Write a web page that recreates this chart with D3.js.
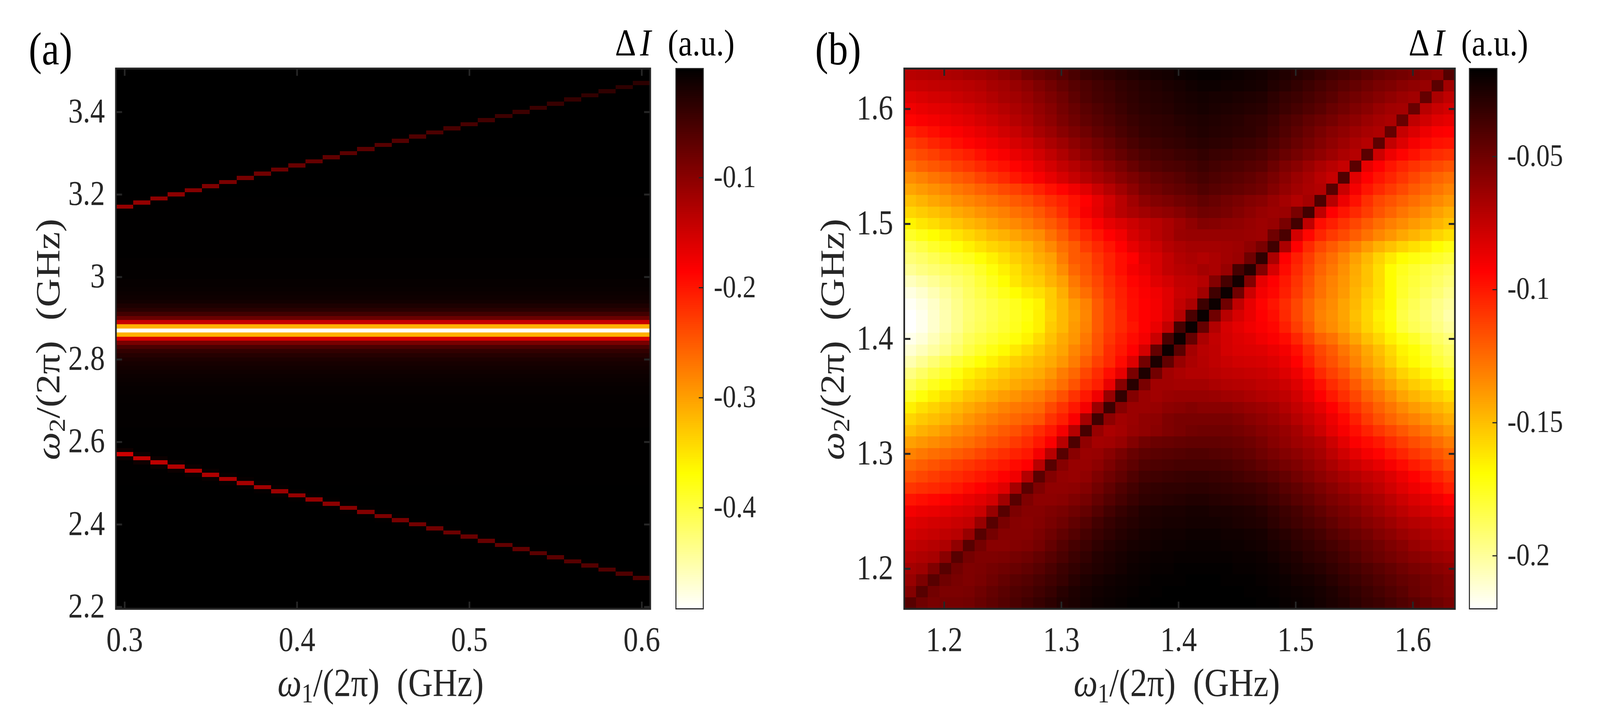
<!DOCTYPE html>
<html>
<head>
<meta charset="utf-8">
<script src="https://cdn.jsdelivr.net/npm/d3@7"></script>
<style>
	html, body { margin: 0; padding: 0; background: #fff; overflow: hidden; }
	svg { display: block; width: 100vw; height: 100vh; }
	text { font-family: "Liberation Serif", serif; }
	.tick text { fill: #262626; }
	.cell { shape-rendering: crispEdges; }
	.bar { shape-rendering: crispEdges; }
</style>
</head>
<body>
<svg class="figure" viewBox="0 0 4797 1820" preserveAspectRatio="none"></svg>
<script>
// Panel (a) grid and tick labels
var omega1A = [0.30,0.31,0.32,0.33,0.34,0.35,0.36,0.37,0.38,0.39,0.40,0.41,0.42,0.43,0.44,0.45,
	0.46,0.47,0.48,0.49,0.50,0.51,0.52,0.53,0.54,0.55,0.56,0.57,0.58,0.59,0.60];
var xTicksA = [0.3, 0.4, 0.5, 0.6];
var xTickLabelsA = ["0.3", "0.4", "0.5", "0.6"];
var yTicksA = [2.2, 2.4, 2.6, 2.8, 3.0, 3.2, 3.4];
var yTickLabelsA = ["2.2", "2.4", "2.6", "2.8", "3", "3.2", "3.4"];
var barTicksA = [-0.4, -0.3, -0.2, -0.1];
var barLabelsA = ["-0.4", "-0.3", "-0.2", "-0.1"];
var barRangeA = [-0.492, -0.001];

// Panel (a) horizontal band, -dI x 1000, one value per row from 2.20 to 3.50 GHz
var bandA = [
	1,1,1,1,1,1,1,1,1,1,
	1,1,1,1,1,1,1,1,1,1,
	1,1,1,1,1,1,1,1,1,1,
	2,2,2,2,2,2,2,2,2,2,
	2,2,2,2,3,3,3,3,3,3,
	4,4,5,5,7,8,10,12,14,17,
	21,28,37,55,88,156,312,492,312,145,
	77,48,30,21,14,11,9,7,5,5,
	3,3,3,3,3,2,2,2,2,2,
	2,2,2,2,2,2,2,2,2,2,
	1,1,1,1,1,1,1,1,1,1,
	1,1,1,1,1,1,1,1,1,1,
	1,1,1,1,1,1,1,1,1,1,1];

// Panel (a) upper and lower traces, per omega1 column
var upperRowA = [3.17,3.18,3.19,3.20,3.21,3.22,3.23,3.24,3.25,3.26,3.27,3.28,3.29,3.30,3.31,3.32,
	3.33,3.34,3.35,3.36,3.37,3.38,3.39,3.40,3.41,3.42,3.43,3.44,3.45,3.46,3.47];
var upperValueA = [109,107,104,102,96,93,89,86,82,79,76,73,70,67,66,63,
	61,59,56,53,52,49,46,44,43,41,39,37,36,34,33];
var lowerRowA = [2.57,2.56,2.55,2.54,2.53,2.52,2.51,2.50,2.49,2.48,2.47,2.46,2.45,2.44,2.43,2.42,
	2.41,2.40,2.39,2.38,2.37,2.36,2.35,2.34,2.33,2.32,2.31,2.30,2.29,2.28,2.27];
var lowerValueA = [149,142,138,131,130,127,124,120,117,113,109,108,102,98,95,91,
	88,84,82,79,77,75,72,70,67,66,64,62,60,59,57];
var lowerSideA = [12,12,10,10,8,8,7,6,5,5,4,4,3,3,3,3,
	3,2,2,2,2,2,2,2,2,2,2,2,2,2,2];

// Panel (b) grid and tick labels
var omega1B = [1.171,1.181,1.191,1.201,1.211,1.221,1.231,1.241,1.251,1.261,1.271,1.281,
	1.291,1.301,1.311,1.321,1.331,1.341,1.351,1.361,1.371,1.381,1.391,1.401,1.411,1.421,
	1.431,1.441,1.451,1.461,1.471,1.481,1.491,1.501,1.511,1.521,1.531,1.541,1.551,1.561,
	1.571,1.581,1.591,1.601,1.611,1.621,1.631];
var omega2B = [1.63,1.62,1.61,1.60,1.59,1.58,1.57,1.56,1.55,1.54,1.53,1.52,1.51,1.50,1.49,1.48,
	1.47,1.46,1.45,1.44,1.43,1.42,1.41,1.40,1.39,1.38,1.37,1.36,1.35,1.34,1.33,1.32,
	1.31,1.30,1.29,1.28,1.27,1.26,1.25,1.24,1.23,1.22,1.21,1.20,1.19,1.18,1.17];
var xTicksB = [1.2, 1.3, 1.4, 1.5, 1.6];
var yTicksB = [1.2, 1.3, 1.4, 1.5, 1.6];
var tickLabelsB = ["1.2", "1.3", "1.4", "1.5", "1.6"];
var barTicksB = [-0.2, -0.15, -0.1, -0.05];
var barLabelsB = ["-0.2", "-0.15", "-0.1", "-0.05"];
var barRangeB = [-0.220, -0.017];

// Panel (b) cells, -dI x 1000, one list per omega2 row (top row first)
var cellsB = [
	[72,71,70,69,68,66,65,63,60,57,52,49,46,43,39,35,33,31,29,27,25,24,23,21,20,19,19,20,21,22,23,25,27,29,31,34,37,39,42,45,48,50,52,54,57,59,42],
	[77,76,75,74,73,72,70,67,65,62,59,55,51,47,43,40,37,35,32,30,28,27,25,24,22,21,21,22,22,23,24,27,29,32,35,38,41,44,47,50,53,55,58,60,62,44,65],
	[84,82,80,79,77,75,73,70,67,65,62,58,54,50,45,41,38,36,33,31,29,28,27,25,24,23,24,24,25,26,27,30,33,35,38,41,44,48,51,54,57,60,63,65,47,68,74],
	[89,87,85,84,82,80,77,74,71,68,65,61,57,52,48,44,41,38,35,32,30,29,28,26,25,24,25,26,27,28,29,32,35,38,41,44,48,51,55,58,62,65,66,48,72,77,80],
	[94,92,90,88,86,84,81,78,75,71,68,63,59,54,50,46,43,40,37,34,32,31,30,28,27,26,27,28,29,31,32,35,39,42,46,49,52,56,59,63,66,68,48,74,79,84,86],
	[103,100,97,94,92,89,86,83,79,76,72,67,63,58,54,50,46,43,39,36,33,32,31,30,28,27,28,29,30,31,33,37,41,45,49,53,57,60,64,67,69,47,76,82,88,92,93],
	[111,108,104,101,97,94,91,88,85,81,78,73,68,64,59,55,51,47,43,39,36,35,33,32,30,29,30,31,33,34,36,40,44,48,52,56,60,64,68,71,45,75,83,90,95,98,99],
	[118,115,112,108,105,102,98,94,91,87,84,79,74,69,64,59,55,51,47,43,40,38,37,35,34,32,34,35,37,38,40,44,48,52,56,60,64,68,71,44,78,88,94,98,103,106,108],
	[126,122,119,116,112,109,105,101,98,94,90,85,80,75,71,66,62,57,53,48,44,42,40,39,37,35,37,39,40,42,44,49,54,58,63,68,72,76,44,86,93,99,104,108,112,115,118],
	[135,132,128,125,121,118,113,109,105,100,96,91,86,81,76,71,67,63,58,54,50,47,45,43,40,38,40,42,44,46,49,53,58,63,67,72,76,41,84,93,99,104,109,114,119,123,126],
	[142,139,136,133,129,126,122,119,115,112,108,103,98,94,89,84,77,71,65,59,53,51,48,46,44,41,43,45,47,49,51,56,61,65,68,70,43,77,90,99,105,110,115,120,124,128,132],
	[150,147,143,140,136,133,130,127,124,120,117,112,107,103,98,93,86,79,72,65,59,56,54,51,49,46,48,51,53,56,58,62,66,70,66,40,72,88,98,107,114,118,122,126,130,134,138],
	[157,154,151,148,144,141,137,134,131,127,124,119,113,107,99,91,85,78,72,68,65,62,60,57,53,50,51,53,56,59,62,64,63,53,37,74,93,99,105,111,118,123,128,132,136,141,145],
	[166,162,159,155,152,148,145,141,137,134,130,125,120,114,106,98,92,86,82,78,74,72,68,64,60,56,57,59,60,62,64,62,53,37,74,97,102,108,114,120,126,131,135,139,143,147,151],
	[177,173,169,165,161,157,153,149,146,142,138,135,127,120,112,105,99,93,89,81,77,72,68,63,62,62,62,62,62,63,64,50,39,80,95,104,110,115,121,127,133,138,143,147,151,156,160],
	[187,183,178,174,170,165,161,157,154,150,147,141,134,126,120,111,105,99,93,86,81,77,71,68,66,66,66,65,64,60,53,36,68,93,105,114,120,126,132,139,146,151,156,160,164,169,173],
	[193,190,186,182,178,175,170,165,160,155,151,145,141,130,120,117,109,103,97,93,84,81,75,70,68,70,68,65,63,50,31,68,93,102,111,120,126,133,141,148,156,163,169,172,175,178,181],
	[199,195,192,189,186,183,177,171,165,160,154,150,144,135,124,118,111,103,97,90,87,81,75,72,70,66,68,62,38,28,56,81,96,105,114,123,129,136,144,151,159,169,175,179,183,186,189],
	[207,203,199,195,191,187,181,175,169,162,157,154,147,141,129,121,114,106,100,94,90,84,80,75,74,71,56,38,23,56,86,93,100,108,117,126,132,138,145,151,159,169,177,181,185,189,193],
	[214,210,205,200,195,189,184,179,174,169,164,160,154,145,133,126,117,108,102,96,92,89,84,77,75,65,36,21,50,78,90,95,102,110,119,127,133,139,147,154,160,169,178,183,188,192,197],
	[218,214,209,203,197,191,187,183,179,175,170,166,154,148,139,132,120,111,103,97,93,90,84,75,68,35,21,50,74,86,94,99,106,114,123,130,135,142,148,156,162,169,181,186,191,196,200],
	[220,216,210,204,198,192,188,184,180,176,172,165,156,148,141,133,120,111,105,97,93,90,83,71,39,20,50,72,81,87,93,97,105,114,123,132,136,142,150,157,165,171,183,188,192,197,203],
	[220,216,210,204,198,191,187,183,179,175,170,165,154,148,139,132,120,111,105,99,93,87,75,38,20,47,70,81,85,89,92,95,102,111,120,130,135,141,148,156,163,170,181,186,190,195,200],
	[216,212,206,200,194,187,183,179,175,171,166,159,151,144,138,129,118,109,102,96,90,77,39,21,47,68,75,80,83,85,89,92,96,104,113,122,127,135,142,150,157,165,172,177,184,189,194],
	[211,206,201,196,190,183,178,173,168,163,158,153,147,142,133,126,117,106,100,93,80,47,21,44,66,72,74,80,82,83,84,87,90,97,106,114,120,128,135,143,150,158,166,170,177,184,189],
	[204,198,192,186,180,175,170,165,160,155,152,148,144,138,130,121,112,105,96,83,51,25,46,62,68,71,74,77,79,80,81,83,87,93,102,111,117,124,132,140,147,155,163,168,174,180,185],
	[195,189,183,178,172,165,161,157,153,149,147,144,138,130,124,114,106,97,86,53,26,51,65,68,70,70,72,74,75,76,77,79,83,88,96,105,112,118,126,134,141,148,156,161,166,172,177],
	[187,181,175,170,165,159,155,151,148,144,141,138,132,126,118,108,102,87,57,29,53,65,65,66,66,66,68,70,71,72,74,75,78,83,90,98,106,112,120,128,135,142,149,154,158,163,168],
	[177,171,165,160,156,151,148,144,140,137,133,130,124,117,108,100,89,62,32,56,63,65,63,62,62,62,63,65,66,68,70,72,74,79,86,93,100,107,114,122,128,135,142,147,151,155,159],
	[165,160,156,152,148,144,140,136,132,129,127,124,115,108,100,90,63,35,57,63,63,62,59,58,56,58,58,58,60,62,64,66,70,75,80,86,93,100,108,115,122,128,134,139,143,147,151],
	[157,153,150,147,143,138,134,130,127,124,121,118,108,102,92,66,36,59,65,63,60,59,55,53,53,53,53,53,55,58,60,63,66,71,76,81,88,95,102,110,117,123,128,132,136,141,145],
	[150,146,143,139,135,132,128,124,120,117,112,106,100,90,71,38,62,68,66,62,60,58,55,53,51,50,50,50,52,54,57,59,62,66,72,78,85,91,97,103,109,114,119,124,128,133,138],
	[141,138,135,132,129,126,122,118,115,110,106,100,92,72,40,60,66,65,62,56,51,49,48,47,46,46,46,47,48,50,53,57,60,64,67,70,78,85,92,96,100,106,111,116,120,125,130],
	[132,129,126,124,121,118,114,110,107,103,100,90,72,43,58,63,62,58,53,48,45,44,43,42,41,41,42,43,45,47,50,53,56,59,63,67,73,79,85,90,94,99,104,109,113,118,123],
	[124,121,118,115,112,109,106,103,100,96,93,72,43,57,62,62,59,54,49,45,41,40,39,38,38,38,38,39,41,43,46,49,52,55,59,63,68,73,78,82,86,91,96,101,105,111,117],
	[117,114,111,108,106,103,100,97,93,89,70,44,56,61,62,60,55,50,46,41,37,36,35,34,33,33,34,35,37,39,41,44,47,51,55,59,63,67,71,75,78,83,88,93,98,103,108],
	[109,107,105,103,100,96,93,89,84,66,44,55,60,60,59,56,51,46,41,37,33,32,31,31,30,30,31,32,33,34,36,39,43,46,50,54,58,62,66,70,74,79,84,88,92,97,102],
	[99,97,95,93,90,87,84,80,65,43,55,59,59,58,55,52,47,42,38,34,31,30,29,28,27,27,28,29,30,31,33,36,39,43,46,50,54,57,61,65,68,73,78,82,85,89,93],
	[90,88,87,85,83,81,77,62,43,54,57,57,55,53,50,47,42,37,33,30,27,26,25,25,24,24,25,25,26,27,29,32,35,38,42,46,50,53,57,61,65,69,73,77,80,83,86],
	[84,82,80,79,77,75,62,43,53,57,58,56,53,50,46,42,37,33,30,28,26,25,24,24,23,23,23,24,25,26,27,30,33,36,39,42,46,50,53,57,60,64,68,71,73,76,78],
	[80,78,76,74,72,62,43,52,57,57,57,54,50,46,42,38,34,31,28,26,24,23,22,22,21,21,21,22,22,23,24,27,29,32,35,38,42,45,49,52,56,59,63,66,69,72,74],
	[75,73,71,69,60,43,52,58,58,56,55,52,47,42,38,35,31,28,26,24,23,22,21,21,20,20,20,21,21,22,23,25,27,30,32,35,38,41,45,48,51,55,58,62,65,68,70],
	[71,69,67,58,43,52,55,55,54,52,50,47,43,39,35,32,28,26,24,22,21,20,20,19,19,19,19,19,20,20,21,23,25,27,30,32,35,38,42,46,49,52,55,58,60,63,65],
	[66,64,55,43,51,55,54,52,50,48,46,43,39,35,32,29,27,25,23,21,20,19,19,18,18,18,18,18,19,19,20,21,23,25,27,29,32,35,38,41,44,47,50,53,55,58,60],
	[62,54,43,50,53,55,53,50,47,44,42,39,36,33,29,26,24,22,21,20,19,18,18,18,17,17,17,18,18,18,19,20,21,23,24,26,29,32,35,38,41,44,47,49,52,54,57],
	[56,43,51,54,54,53,50,47,44,41,39,36,33,29,26,24,22,21,20,19,18,18,17,17,17,17,17,17,17,18,18,19,20,21,22,24,26,29,32,35,38,41,44,48,51,54,56],
	[43,50,53,52,52,51,48,45,42,39,36,33,30,27,25,23,21,20,19,18,18,17,17,17,17,17,17,17,17,17,18,18,19,20,21,23,25,27,30,33,35,38,41,44,47,50,53]
];

var inkColor = "#262626";
var svg = d3.select(".figure");

svg.append("rect").attr("width", 4797).attr("height", 1820).attr("fill", "#fff");

// MATLAB "hot" running from black at the top of the colorbar to white at the bottom
function hotScale(range) {
	var lo = range[0], hi = range[1], span = hi - lo;
	return d3.scaleLinear()
		.domain([lo, lo + span * 0.25, lo + span * 0.625, hi])
		.range(["#ffffff", "#ffff00", "#ff0000", "#000000"])
		.clamp(true);
}

// Build the cell list of panel (a) from the band and the two traces
function cellsForA() {
	var cells = [];
	omega1A.forEach(function(w1, col) {
		bandA.forEach(function(base, row) {
			var w2 = 2.2 + row * 0.01;
			var v = base;
			var lowerOff = Math.round((w2 - lowerRowA[col]) * 100);
			if (Math.abs(lowerOff) == 1) { v = Math.max(v, lowerSideA[col]); }
			if (lowerOff == 0) { v = Math.max(v, lowerValueA[col]); }
			if (Math.round((w2 - upperRowA[col]) * 100) == 0) { v = Math.max(v, upperValueA[col]); }
			cells.push({x: w1, y: w2, value: -v / 1000});
		});
	});
	return cells;
}

function cellsForB() {
	var cells = [];
	omega2B.forEach(function(w2, r) {
		omega1B.forEach(function(w1, c) {
			cells.push({x: w1, y: w2, value: -cellsB[r][c] / 1000});
		});
	});
	return cells;
}

// Draw one heatmap panel with its frame, axes and colorbar
function drawPanel(p) {
	var g = svg.append("g").attr("class", "panel");
	var color = hotScale(p.barRange);
	var x = d3.scaleLinear().domain(p.xDomain).range(p.xRange);
	var y = d3.scaleLinear().domain(p.yDomain).range([1558.5, 175.5]);
	var half = p.step / 2;

	g.selectAll(".cell")
		.data(p.cells)
	  .join("rect")
		.attr("class", "cell")
		.attr("x", function(d) { return x(d.x - half); })
		.attr("y", function(d) { return y(d.y + half); })
		.attr("width", function(d) { return x(d.x + half) - x(d.x - half); })
		.attr("height", function(d) { return y(d.y - half) - y(d.y + half); })
		.attr("fill", function(d) { return color(d.value); });

	// Ticks point inward on all four sides, labels only left and bottom
	var bottom = g.append("g")
		.attr("transform", "translate(0,1558.5)")
		.call(d3.axisBottom(x).tickValues(p.xTicks).tickSize(-18.5).tickPadding(0)
			.tickFormat(function(d, i) { return p.xLabels[i]; }));
	var left = g.append("g")
		.attr("transform", "translate(" + p.xRange[0] + ",0)")
		.call(d3.axisLeft(y).tickValues(p.yTicks).tickSize(-18.5).tickPadding(0)
			.tickFormat(function(d, i) { return p.yLabels[i]; }));
	var top = g.append("g")
		.attr("transform", "translate(0,175.5)")
		.call(d3.axisTop(x).tickValues(p.xTicks).tickSize(-18.5).tickFormat(""));
	var right = g.append("g")
		.attr("transform", "translate(" + p.xRange[1] + ",0)")
		.call(d3.axisRight(y).tickValues(p.yTicks).tickSize(-18.5).tickFormat(""));

	[bottom, left, top, right].forEach(function(axis) {
		axis.select(".domain").remove();
		axis.selectAll("line").attr("stroke", inkColor).attr("stroke-width", 5);
	});

	bottom.selectAll("text")
		.attr("font-size", 88)
		.attr("y", 108)
		.attr("dy", 0);
	left.selectAll("text")
		.attr("font-size", 88)
		.attr("x", -33)
		.attr("dy", 26);

	g.append("rect")
		.attr("x", p.xRange[0])
		.attr("y", 175.5)
		.attr("width", p.xRange[1] - p.xRange[0])
		.attr("height", 1383)
		.attr("fill", "none")
		.attr("stroke", inkColor)
		.attr("stroke-width", 5);

	// Colorbar
	var barY = d3.scaleLinear().domain(p.barRange).range([1558.5, 175.5]);
	var levels = d3.range(0, 256);
	var barStep = (p.barRange[1] - p.barRange[0]) / 256;
	g.selectAll(".bar")
		.data(levels)
	  .join("rect")
		.attr("class", "bar")
		.attr("x", p.barX[0])
		.attr("width", p.barX[1] - p.barX[0])
		.attr("y", function(d) { return barY(p.barRange[0] + (d + 1) * barStep); })
		.attr("height", function(d) { return barY(p.barRange[0] + d * barStep) - barY(p.barRange[0] + (d + 1) * barStep); })
		.attr("fill", function(d) { return color(p.barRange[0] + (d + 0.5) * barStep); });

	var barAxis = g.append("g")
		.attr("transform", "translate(" + p.barX[1] + ",0)")
		.call(d3.axisRight(barY).tickValues(p.barTicks).tickSize(-13.5).tickPadding(0)
			.tickFormat(function(d, i) { return p.barLabels[i]; }));
	barAxis.select(".domain").remove();
	barAxis.selectAll("line").attr("stroke", inkColor).attr("stroke-width", 3);
	barAxis.selectAll("text")
		.attr("font-size", 80)
		.attr("x", 31.5)
		.attr("dy", 24);

	g.append("rect")
		.attr("x", p.barX[0])
		.attr("y", 175.5)
		.attr("width", p.barX[1] - p.barX[0])
		.attr("height", 1383)
		.attr("fill", "none")
		.attr("stroke", inkColor)
		.attr("stroke-width", 3);

	// Panel letter
	g.append("text")
		.attr("x", p.letterX)
		.attr("y", 165)
		.attr("font-size", 118)
		.attr("fill", "#000")
		.text(p.letter);

	// Colorbar title
	g.append("text")
		.attr("x", p.titleX[0])
		.attr("y", 142)
		.attr("font-size", 98)
		.attr("fill", "#000")
		.text("\u0394");
	g.append("text")
		.attr("x", p.titleX[1])
		.attr("y", 142)
		.attr("font-size", 98)
		.attr("font-style", "italic")
		.attr("fill", "#000")
		.text("I");
	g.append("text")
		.attr("x", p.titleX[2])
		.attr("y", 142)
		.attr("font-size", 95)
		.attr("fill", "#000")
		.text("(a.u.)");

	// Axis titles
	axisTitle(g, "1", "translate(" + p.xTitleX + ",1782)");
	axisTitle(g, "2", "translate(" + p.yTitleX + ",1178) rotate(-90)");
}

// omega with a subscript, then /(2 pi) (GHz)
function axisTitle(g, sub, transform) {
	var t = g.append("text")
		.attr("transform", transform)
		.attr("font-size", 102)
		.attr("fill", inkColor);
	t.append("tspan").attr("font-style", "italic").text("\u03c9");
	t.append("tspan").attr("font-size", 70).attr("dy", 16).text(sub);
	t.append("tspan").attr("dy", -16).text("/(2\u03c0)");
	t.append("tspan").attr("dx", 52).text("(GHz)");
}

drawPanel({
	cells: cellsForA(),
	step: 0.01,
	xDomain: [0.295, 0.605],
	xRange: [347.5, 1949.5],
	yDomain: [2.195, 3.505],
	xTicks: xTicksA,
	xLabels: xTickLabelsA,
	yTicks: yTicksA,
	yLabels: yTickLabelsA,
	barRange: barRangeA,
	barTicks: barTicksA,
	barLabels: barLabelsA,
	barX: [2026.5, 2108.5],
	letter: "(a)",
	letterX: 86,
	titleX: [1844, 1919, 2002],
	xTitleX: 832,
	yTitleX: 178
});

drawPanel({
	cells: cellsForB(),
	step: 0.01,
	xDomain: [1.166, 1.636],
	xRange: [2711, 4362],
	yDomain: [1.165, 1.635],
	xTicks: xTicksB,
	xLabels: tickLabelsB,
	yTicks: yTicksB,
	yLabels: tickLabelsB,
	barRange: barRangeB,
	barTicks: barTicksB,
	barLabels: barLabelsB,
	barX: [4405.5, 4488],
	letter: "(b)",
	letterX: 2444,
	titleX: [4223, 4298, 4381],
	xTitleX: 3219,
	yTitleX: 2530
});
</script>
</body>
</html>
